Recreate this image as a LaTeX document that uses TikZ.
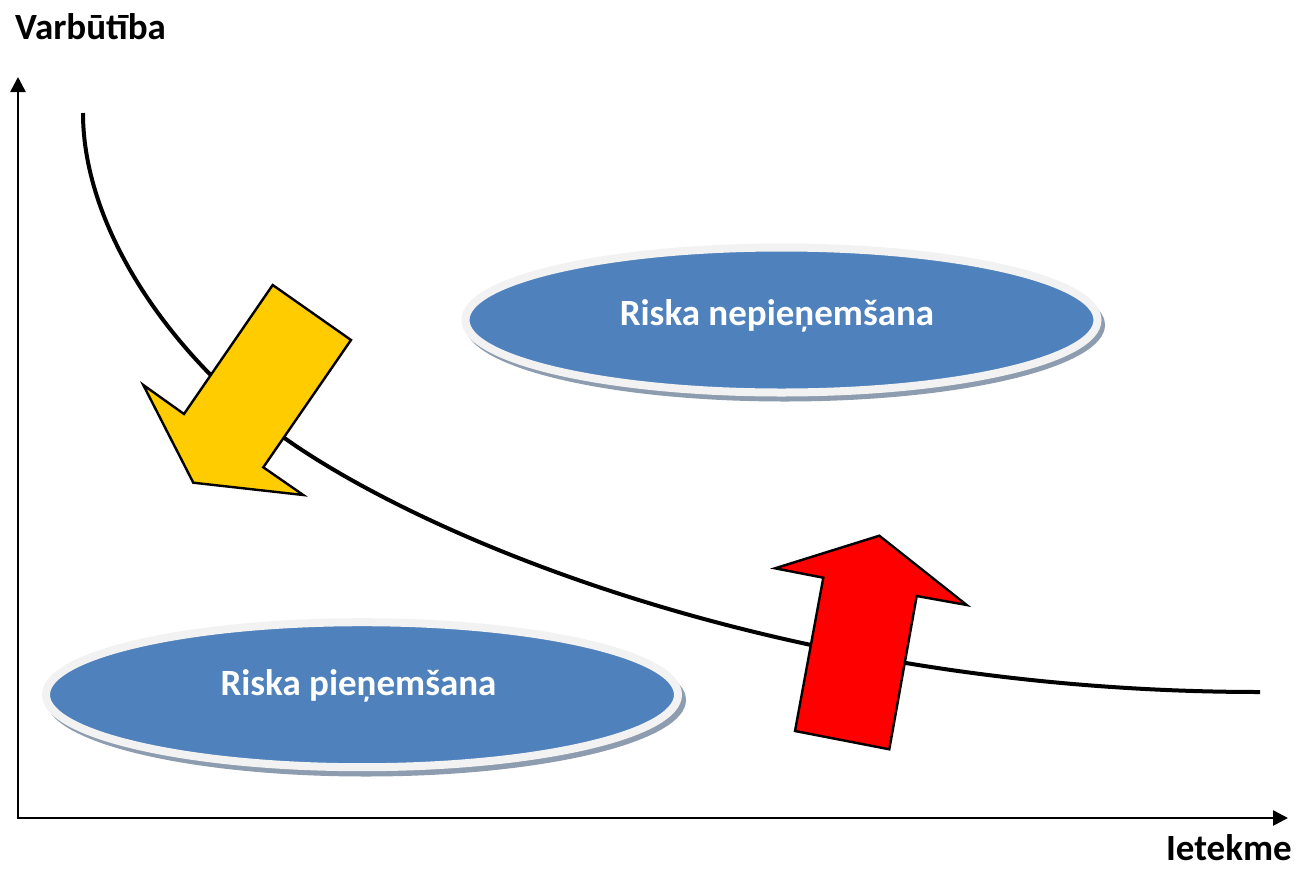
\documentclass[tikz,border=0pt]{standalone}
\usepackage{fontspec}
\setmainfont{Carlito}
\usetikzlibrary{shapes.geometric,arrows.meta}
\definecolor{zoneblue}{HTML}{4F81BD}
\definecolor{zonerim}{HTML}{F2F2F2}
\definecolor{zoneshadow}{HTML}{8E9CB0}
\definecolor{arrowgold}{HTML}{FFCC00}
\definecolor{arrowred}{HTML}{FF0000}
\tikzset{
  axis/.style={line width=2.6pt,-{Triangle[length=15pt,width=15pt]}},
  axislabel/.style={font=\fontsize{37}{42}\selectfont\bfseries,text=black,inner sep=0pt},
  zone/.style={ellipse,fill=zoneblue,draw=zonerim,line width=8pt,
    minimum width=632pt,minimum height=145pt,inner sep=0pt},
  zoneshade/.style={ellipse,fill=zoneshadow,minimum width=640pt,
    minimum height=153pt,inner sep=0pt},
  zonelabel/.style={font=\fontsize{37}{42}\selectfont\bfseries,text=white,inner sep=0pt},
  boundary/.style={line width=4pt,line join=round},
  bigarrow/.style={draw=black,line width=2.4pt,line join=miter},
}
\begin{document}
\begin{tikzpicture}[x=1pt,y=-1pt]
\useasboundingbox (0,0) rectangle (1299,868);

% axes
\coordinate (O) at (18,819.3);
\coordinate (ytip) at (18,77);
\coordinate (xtip) at (1288,818);
\draw[axis] (18,819.3) -- (ytip);
\draw[axis] (16.7,818) -- (xtip);
\node[axislabel,anchor=base west] (ylab) at (15,39) {Varbūtība};
\node[axislabel,anchor=base east] (xlab) at (1292,860.5) {Ietekme};

% shadows of the two zones
\node[zoneshade] (shadeU) at (785,325) {};
\node[zoneshade] (shadeL) at (366,700) {};

% zones
\node[zone] (upper) at (781.5,320) {};
\node[zone] (lower) at (362,694.7) {};
\node[zonelabel,anchor=base] (upperlab) at (777,325) {Riska nepieņemšana};
\node[zonelabel,anchor=base] (lowerlab) at (358.5,695) {Riska pieņemšana};

% acceptance boundary
\coordinate (cstart) at (83,113);
\coordinate (cmid) at (283,437);
\coordinate (cend) at (1260,692);
\draw[boundary] (cstart) .. controls (83,230) and (173,358) .. (cmid)
  .. controls (420,535) and (780,692) .. (cend);

% arrow towards lower risk
\draw[bigarrow,fill=arrowgold]
  (272.7,285) -- (351,340) -- (263.3,467.3) -- (303.3,495)
  -- (193.3,482.7) -- (143.3,385) -- (184,414) -- cycle;

% arrow towards higher risk
\draw[bigarrow,fill=arrowred]
  (879.3,535.7) -- (966.7,605) -- (916.7,596) -- (889.3,749.3)
  -- (795,731) -- (823.3,577.7) -- (775,568.3) -- cycle;
\end{tikzpicture}
\end{document}
